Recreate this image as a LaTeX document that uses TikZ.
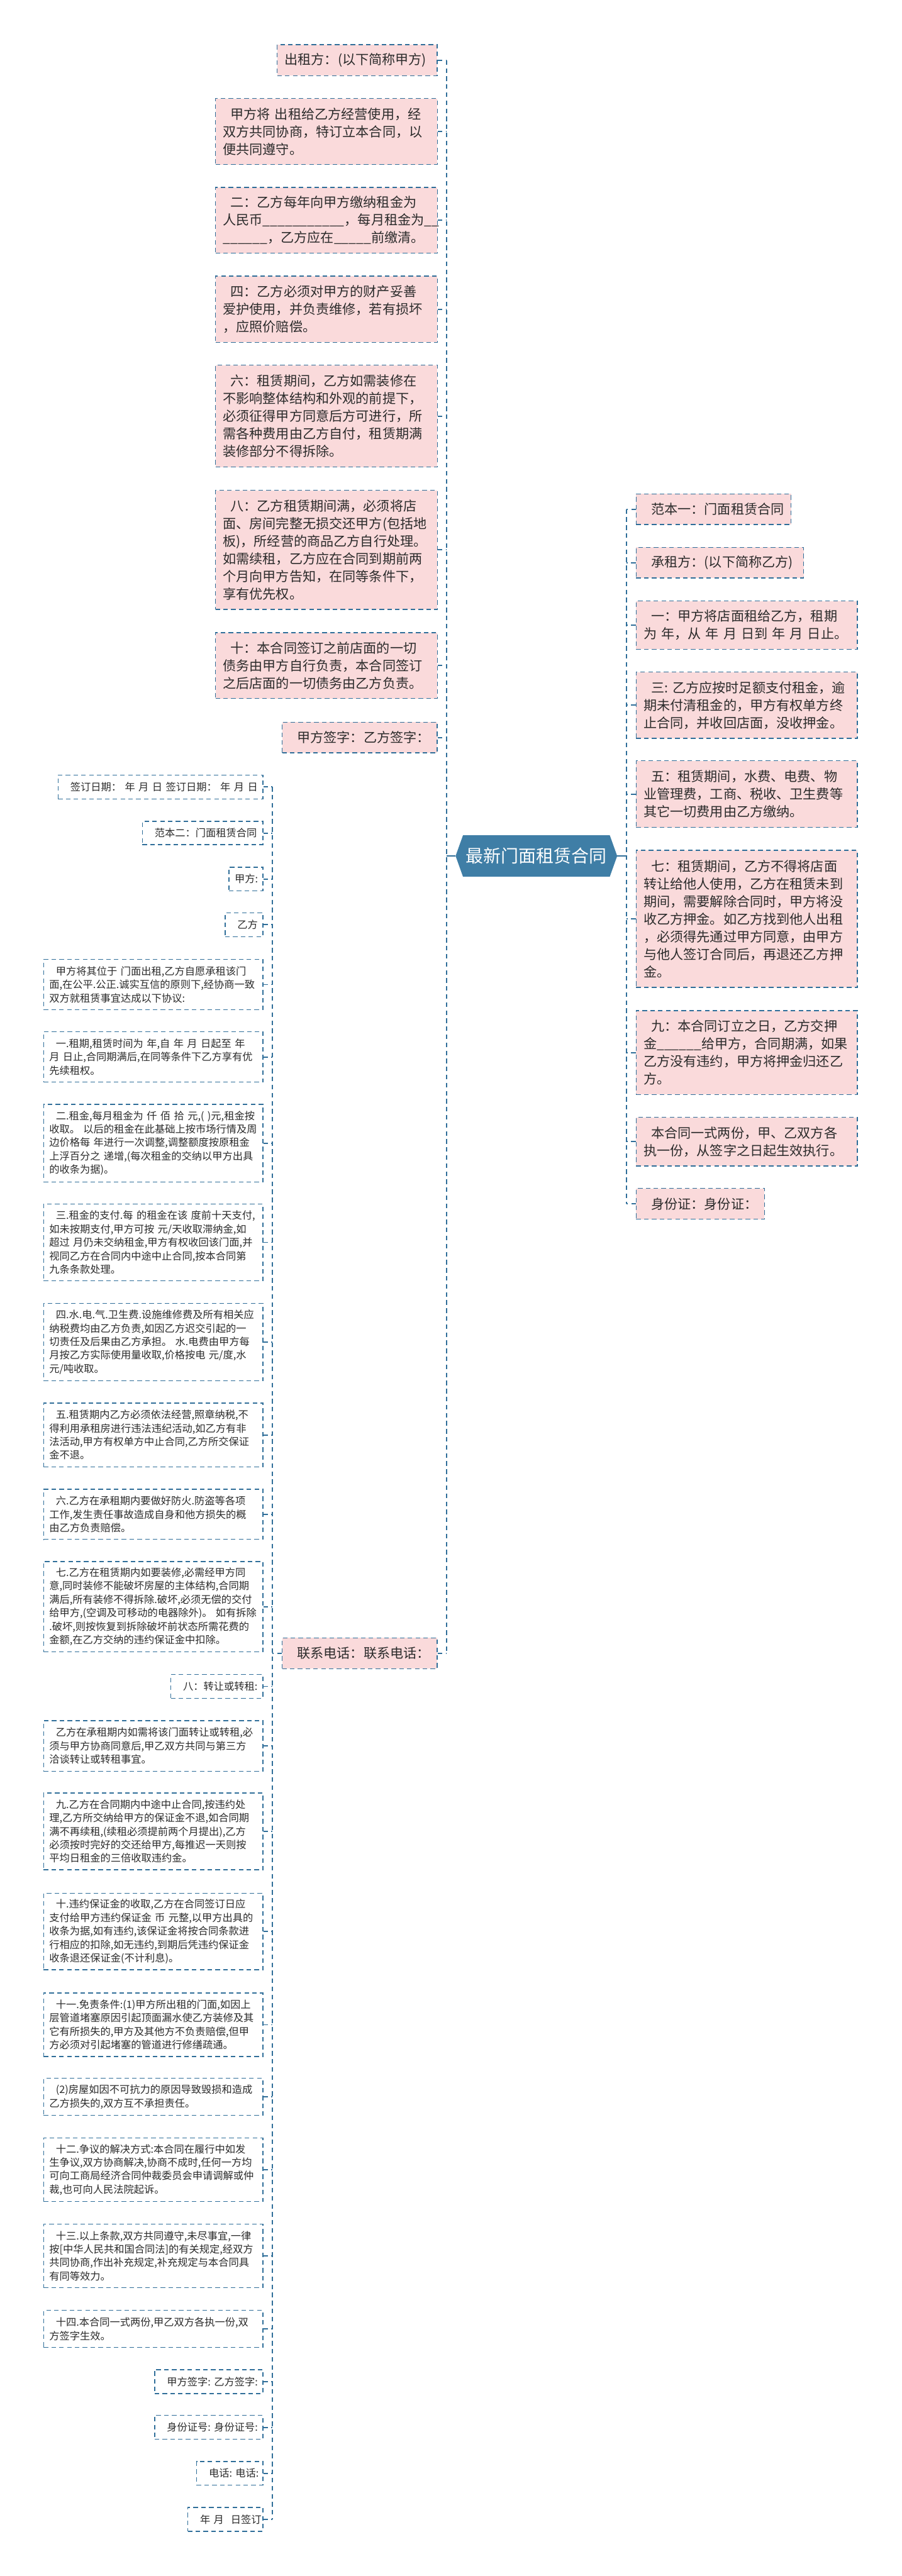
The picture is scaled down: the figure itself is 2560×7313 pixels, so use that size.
\documentclass[tikz,border=0pt]{standalone}
\usepackage{fontspec}
\setmainfont{Noto Sans CJK SC}
\usetikzlibrary{calc,backgrounds}
\definecolor{lineblue}{HTML}{2F6E99}
\definecolor{pinkfill}{HTML}{FADADB}
\definecolor{centerfill}{HTML}{3F7EA6}
\definecolor{textdark}{HTML}{2B2B2B}
\newcommand\pinkfont{\fontsize{10.73pt}{14.2pt}\selectfont}
\newcommand\whitefont{\fontsize{8.25pt}{10.85pt}\selectfont}
\newcommand\centerfont{\fontsize{14.2pt}{17pt}\selectfont}
\newcommand\pin{\hspace*{0.57em}}
\newcommand\win{\hspace*{0.65em}}
\newcount\blankcnt
\newcommand\blank[1]{\blankcnt=#1\relax\loop\symbol{95}\advance\blankcnt-1\relax\ifnum\blankcnt>0\repeat}
\tikzset{
  basebox/.style={draw=lineblue, line width=0.7pt, dash pattern=on 3.7pt off 2.6pt, align=left, inner ysep=0pt, text=textdark},
  pinkbox/.style={basebox, fill=pinkfill, inner xsep=2.1mm, font=\pinkfont},
  whitebox/.style={basebox, fill=white, inner xsep=1.6mm, font=\whitefont},
  pb/.style n args={3}{pinkbox, minimum width=#1, minimum height=#2, text width=#3},
  wb/.style n args={3}{whitebox, minimum width=#1, minimum height=#2, text width=#3},
  conn/.style={draw=lineblue, line width=1pt, dash pattern=on 3.7pt off 2.8pt},
  solidconn/.style={draw=lineblue, line width=1.2pt},
  centernode/.style={minimum width=45.7mm, minimum height=11.6mm, inner sep=0pt, text=white, font=\centerfont},
}
\begin{document}
\begin{tikzpicture}[x=0.01cm,y=-0.01cm]
\useasboundingbox (0,0) rectangle (2560,7313);
\coordinate (LT) at (1267,0);
\coordinate (RT) at (1778,0);
\coordinate (ST) at (773,0);

% centre
\node[centernode] (c) at (1522.5,2430) {最新门面租赁合同};

% top-left group (pink)
\node[pb={45.4mm}{8.8mm}{41.2mm}] (n1) at (1014,171) {出租方：(以下简称甲方)};
\node[pb={62.9mm}{18.7mm}{58.7mm}] (n2) at (926.5,373.5) {\pin 甲方将~出租给乙方经营使用，经\\双方共同协商，特订立本合同，以\\便共同遵守。};
\node[pb={62.9mm}{18.7mm}{58.7mm}] (n3) at (926.5,625.5) {\pin 二：乙方每年向甲方缴纳租金为\\人民币\blank{11}，每月租金为\blank{2}\\\blank{6}，乙方应在\blank{5}前缴清。};
\node[pb={62.9mm}{18.8mm}{58.7mm}] (n4) at (926.5,878) {\pin 四：乙方必须对甲方的财产妥善\\爱护使用，并负责维修，若有损坏\\，应照价赔偿。};
\node[pb={62.9mm}{28.9mm}{58.7mm}] (n5) at (926.5,1181.5) {\pin 六：租赁期间，乙方如需装修在\\不影响整体结构和外观的前提下，\\必须征得甲方同意后方可进行，所\\需各种费用由乙方自付，租赁期满\\装修部分不得拆除。};
\node[pb={62.9mm}{33.8mm}{58.7mm}] (n6) at (926.5,1561) {\pin 八：乙方租赁期间满，必须将店\\面、房间完整无损交还甲方(包括地\\板)，所经营的商品乙方自行处理。\\如需续租，乙方应在合同到期前两\\个月向甲方告知，在同等条件下，\\享有优先权。};
\node[pb={62.9mm}{18.7mm}{58.7mm}] (n7) at (926.5,1889.5) {\pin 十：本合同签订之前店面的一切\\债务由甲方自行负责，本合同签订\\之后店面的一切债务由乙方负责。};
\node[pb={44.0mm}{8.7mm}{39.8mm}] (n8) at (1021,2093.5) {\pin 甲方签字：乙方签字：};
\node[pb={44.0mm}{8.7mm}{39.8mm}] (lx) at (1021,4693.5) {\pin 联系电话：联系电话：};

% right group (pink)
\node[pb={43.9mm}{8.7mm}{39.7mm}] (r1) at (2025.5,1445.5) {\pin 范本一：门面租赁合同};
\node[pb={47.5mm}{8.7mm}{43.3mm}] (r2) at (2043.5,1597.5) {\pin 承租方：(以下简称乙方)};
\node[pb={62.7mm}{13.7mm}{58.5mm}] (r3) at (2119.5,1774.5) {\pin 一：甲方将店面租给乙方，租期\\为~年，从~年~月~日到~年~月~日止。};
\node[pb={62.7mm}{18.8mm}{58.5mm}] (r4) at (2119.5,2002) {\pin 三:~乙方应按时足额支付租金，逾\\期未付清租金的，甲方有权单方终\\止合同，并收回店面，没收押金。};
\node[pb={62.7mm}{18.9mm}{58.5mm}] (r5) at (2119.5,2254.5) {\pin 五：租赁期间，水费、电费、物\\业管理费，工商、税收、卫生费等\\其它一切费用由乙方缴纳。};
\node[pb={62.7mm}{38.9mm}{58.5mm}] (r6) at (2119.5,2608.5) {\pin 七：租赁期间，乙方不得将店面\\转让给他人使用，乙方在租赁未到\\期间，需要解除合同时，甲方将没\\收乙方押金。如乙方找到他人出租\\，必须得先通过甲方同意，由甲方\\与他人签订合同后，再退还乙方押\\金。};
\node[pb={62.7mm}{23.8mm}{58.5mm}] (r7) at (2119.5,2988) {\pin 九：本合同订立之日，乙方交押\\金\blank{6}给甲方，合同期满，如果\\乙方没有违约，甲方将押金归还乙\\方。};
\node[pb={62.7mm}{13.8mm}{58.5mm}] (r8) at (2119.5,3241) {\pin 本合同一式两份，甲、乙双方各\\执一份，从签字之日起生效执行。};
\node[pb={36.4mm}{8.7mm}{32.2mm}] (r9) at (1988,3417.5) {\pin 身份证：身份证：};

% bottom-left group (white)
\node[wb={58.1mm}{6.8mm}{54.9mm}] (w1) at (455.5,2234) {\win 签订日期：~年~月~日~签订日期：~年~月~日};
\node[wb={34.2mm}{6.6mm}{31.0mm}] (w2) at (575,2365) {\win 范本二：门面租赁合同};
\node[wb={9.6mm}{6.7mm}{6.4mm}] (w3) at (698,2495.5) {甲方:};
\node[wb={10.7mm}{6.8mm}{7.5mm}] (w4) at (692.5,2625) {\win 乙方};
\node[wb={62.2mm}{14.2mm}{59.0mm}] (w5) at (435,2795) {\win 甲方将其位于~门面出租,乙方自愿承租该门\\面,在公平.公正.诚实互信的原则下,经协商一致\\双方就租赁事宜达成以下协议:};
\node[wb={62.2mm}{14.3mm}{59.0mm}] (w6) at (435,3000.5) {\win 一.租期,租赁时间为~年,自~年~月~日起至~年\\月~日止,合同期满后,在同等条件下乙方享有优\\先续租权。};
\node[wb={62.2mm}{22.0mm}{59.0mm}] (w7) at (435,3245) {\win 二.租金,每月租金为~仟~佰~拾~元,(~)元,租金按\\收取。~以后的租金在此基础上按市场行情及周\\边价格每~年进行一次调整,调整额度按原租金\\上浮百分之~递增,(每次租金的交纳以甲方出具\\的收条为据)。};
\node[wb={62.2mm}{21.8mm}{59.0mm}] (w8) at (435,3527) {\win 三.租金的支付.每~的租金在该~度前十天支付,\\如未按期支付,甲方可按~元/天收取滞纳金,如\\超过~月仍未交纳租金,甲方有权收回该门面,并\\视同乙方在合同内中途中止合同,按本合同第\\九条条款处理。};
\node[wb={62.2mm}{22.0mm}{59.0mm}] (w9) at (435,3810) {\win 四.水.电.气.卫生费.设施维修费及所有相关应\\纳税费均由乙方负责,如因乙方迟交引起的一\\切责任及后果由乙方承担。~水.电费由甲方每\\月按乙方实际使用量收取,价格按电~元/度,水\\元/吨收取。};
\node[wb={62.2mm}{18.1mm}{59.0mm}] (w10) at (435,4073.5) {\win 五.租赁期内乙方必须依法经营,照章纳税,不\\得利用承租房进行违法违纪活动,如乙方有非\\法活动,甲方有权单方中止合同,乙方所交保证\\金不退。};
\node[wb={62.2mm}{14.2mm}{59.0mm}] (w11) at (435,4299) {\win 六.乙方在承租期内要做好防火.防盗等各项\\工作,发生责任事故造成自身和他方损失的概\\由乙方负责赔偿。};
\node[wb={62.2mm}{25.6mm}{59.0mm}] (w12) at (435,4561) {\win 七.乙方在租赁期内如要装修,必需经甲方同\\意,同时装修不能破坏房屋的主体结构,合同期\\满后,所有装修不得拆除.破坏,必须无偿的交付\\给甲方,(空调及可移动的电器除外)。~如有拆除\\.破坏,则按恢复到拆除破坏前状态所需花费的\\金额,在乙方交纳的违约保证金中扣除。};
\node[wb={26.1mm}{6.7mm}{22.9mm}] (w13) at (615.5,4787.5) {\win 八：转让或转租:};
\node[wb={62.2mm}{14.3mm}{59.0mm}] (w14) at (435,4956.5) {\win 乙方在承租期内如需将该门面转让或转租,必\\须与甲方协商同意后,甲乙双方共同与第三方\\洽谈转让或转租事宜。};
\node[wb={62.2mm}{21.8mm}{59.0mm}] (w15) at (435,5199) {\win 九.乙方在合同期内中途中止合同,按违约处\\理,乙方所交纳给甲方的保证金不退,如合同期\\满不再续租,(续租必须提前两个月提出),乙方\\必须按时完好的交还给甲方,每推迟一天则按\\平均日租金的三倍收取违约金。};
\node[wb={62.2mm}{21.7mm}{59.0mm}] (w16) at (435,5483.5) {\win 十.违约保证金的收取,乙方在合同签订日应\\支付给甲方违约保证金~币~元整,以甲方出具的\\收条为据,如有违约,该保证金将按合同条款进\\行相应的扣除,如无违约,到期后凭违约保证金\\收条退还保证金(不计利息)。};
\node[wb={62.2mm}{18.0mm}{59.0mm}] (w17) at (435,5748) {\win 十一.免责条件:(1)甲方所出租的门面,如因上\\层管道堵塞原因引起顶面漏水使乙方装修及其\\它有所损失的,甲方及其他方不负责赔偿,但甲\\方必须对引起堵塞的管道进行修缮疏通。};
\node[wb={62.2mm}{10.5mm}{59.0mm}] (w18) at (435,5952.5) {\win (2)房屋如因不可抗力的原因导致毁损和造成\\乙方损失的,双方互不承担责任。};
\node[wb={62.2mm}{18.1mm}{59.0mm}] (w19) at (435,6159.5) {\win 十二.争议的解决方式:本合同在履行中如发\\生争议,双方协商解决,协商不成时,任何一方均\\可向工商局经济合同仲裁委员会申请调解或仲\\裁,也可向人民法院起诉。};
\node[wb={62.2mm}{18.0mm}{59.0mm}] (w20) at (435,6404) {\win 十三.以上条款,双方共同遵守,未尽事宜,一律\\按[中华人民共和国合同法]的有关规定,经双方\\共同协商,作出补充规定,补充规定与本合同具\\有同等效力。};
\node[wb={62.2mm}{10.5mm}{59.0mm}] (w21) at (435,6611.5) {\win 十四.本合同一式两份,甲乙双方各执一份,双\\方签字生效。};
\node[wb={30.7mm}{6.8mm}{27.5mm}] (w22) at (592.5,6761) {\win 甲方签字:~乙方签字:};
\node[wb={30.7mm}{6.8mm}{27.5mm}] (w23) at (592.5,6891) {\win 身份证号:~身份证号:};
\node[wb={18.8mm}{6.7mm}{15.6mm}] (w24) at (652,7021.5) {\win 电话:~电话:};
\node[wb={21.3mm}{6.8mm}{18.1mm}] (w25) at (639.5,7152) {\win 年~月~~日签订};

% connectors
\foreach \n in {n1,n2,n3,n4,n5,n6,n7,n8,lx}
  \draw[conn] (\n.east) -- (\n.east -| LT);
\draw[conn] (n1.east -| LT) -- (lx.east -| LT);
\draw[solidconn] (c.west) -- (c.west -| LT);

\foreach \n in {r1,r2,r3,r4,r5,r6,r7,r8,r9}
  \draw[conn] (\n.west) -- (\n.west -| RT);
\draw[conn] (r1.west -| RT) -- (r9.west -| RT);
\draw[solidconn] (c.east) -- (c.east -| RT);

\foreach \n in {w1,w2,w3,w4,w5,w6,w7,w8,w9,w10,w11,w12,w13,w14,w15,w16,w17,w18,w19,w20,w21,w22,w23,w24,w25}
  \draw[conn] (\n.east) -- (\n.east -| ST);
\draw[conn] (w1.east -| ST) -- (w25.east -| ST);
\draw[conn] (lx.west) -- (lx.west -| ST);

\begin{scope}[on background layer]
  \fill[white] (0,0) rectangle (2560,7313);
  \fill[centerfill] (c.west) -- ($(c.north west)+(21,0)$) -- ($(c.north east)+(-21,0)$) -- (c.east) -- ($(c.south east)+(-21,0)$) -- ($(c.south west)+(21,0)$) -- cycle;
\end{scope}
\end{tikzpicture}
\end{document}
